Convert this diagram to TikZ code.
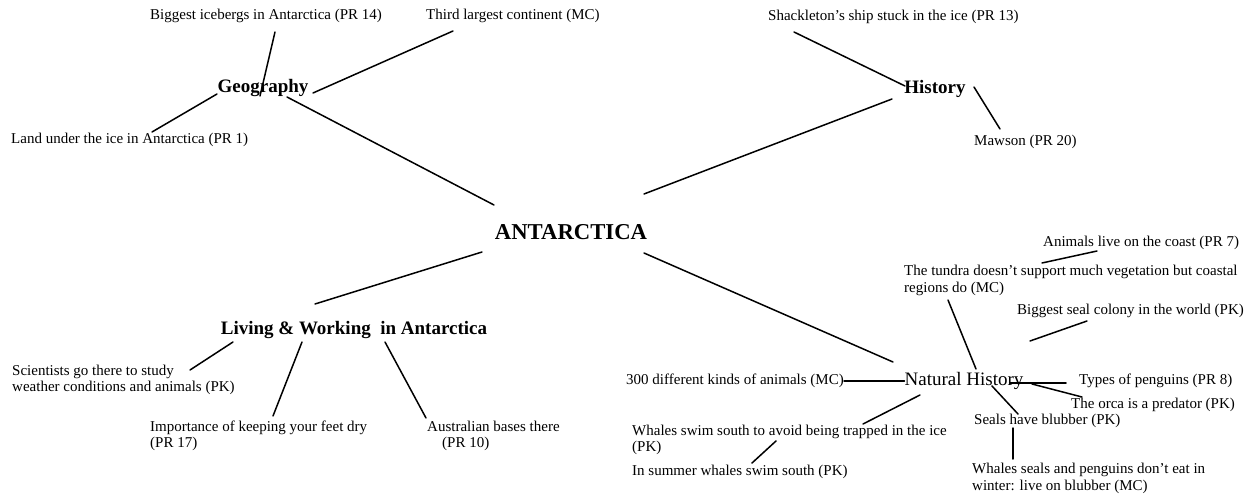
\documentclass[tikz,border=0pt]{standalone}
\usepackage{fontspec}
\setmainfont{Liberation Serif}
\begin{document}
\begin{tikzpicture}[x=1pt,y=-1pt,
  leaf/.style={inner sep=0pt, anchor=west, align=left, font=\fontsize{15}{16.5}\selectfont},
  hub/.style={inner sep=0pt, font=\fontsize{19}{22}\selectfont\bfseries},
  link/.style={line width=1.5pt, line cap=round}]
\useasboundingbox (0,0) rectangle (1248,497);

% central topic and the four themes
\node[hub, font=\fontsize{22.7}{26}\selectfont\bfseries] (ant) at (571,232) {ANTARCTICA};
\node[hub] (geo) at (263,88) {Geography};
\node[hub] (hist) at (935,89) {History};
\node[hub] (liv) at (354,330) {Living \& Working~ in Antarctica};
\node[hub, font=\fontsize{19}{22}\selectfont] (nat) at (964,381) {Natural History};

% Geography
\node[leaf] (ice) at (150,16) {Biggest icebergs in Antarctica (PR 14)};
\node[leaf] (third) at (426,16) {Third largest continent (MC)};
\node[leaf] (land) at (11,140) {Land under the ice in Antarctica (PR 1)};

% History
\node[leaf] (shack) at (768,17) {Shackleton’s ship stuck in the ice (PR 13)};
\node[leaf] (maw) at (974,142) {Mawson (PR 20)};

% Living & Working
\node[leaf] (sci) at (12,380) {Scientists go there to study\\weather conditions and animals (PK)};
\node[leaf] (imp) at (150,436) {Importance of keeping your feet dry\\(PR 17)};
\node[leaf] (aus) at (427,436) {Australian bases there\\\hspace*{15pt}(PR 10)};

% Natural History
\node[leaf] (coast) at (1043,243) {Animals live on the coast (PR 7)};
\node[leaf] (tundra) at (904,280.5) {The tundra doesn’t support much vegetation but coastal\\regions do (MC)};
\node[leaf] (seal) at (1017,311) {Biggest seal colony in the world (PK)};
\node[leaf] (d300) at (626,381) {300 different kinds of animals (MC)};
\node[leaf] (types) at (1079,381) {Types of penguins (PR 8)};
\node[leaf] (orca) at (1071,405) {The orca is a predator (PK)};
\node[leaf] (seals) at (974,421) {Seals have blubber (PK)};
\node[leaf] (avoid) at (632,440) {Whales swim south to avoid being trapped in the ice\\(PK)};
\node[leaf] (summer) at (632,472) {In summer whales swim south (PK)};
\node[leaf] (nocat) at (972,478.5) {Whales seals and penguins don’t eat in\\winter: live on blubber (MC)};

% connectors
\draw[link] ([shift={(125,16)}]ice.west) -- ([shift={(-3,8)}]geo.center);
\draw[link] ([shift={(27,15)}]third.west) -- ([shift={(50,5)}]geo.center);
\draw[link] ([shift={(141,-8)}]land.west) -- ([shift={(-46,6)}]geo.center);
\draw[link] ([shift={(24,9)}]geo.center) -- ([shift={(-77,-27)}]ant.center);

\draw[link] ([shift={(26,15)}]shack.west) -- ([shift={(-30,-3)}]hist.center);
\draw[link] ([shift={(39,-2)}]hist.center) -- ([shift={(26,-13)}]maw.west);
\draw[link] ([shift={(73,-38)}]ant.center) -- ([shift={(-43,10)}]hist.center);

\draw[link] ([shift={(-89,20)}]ant.center) -- ([shift={(-39,-26)}]liv.center);
\draw[link] ([shift={(-121,12)}]liv.center) -- ([shift={(178,-10)}]sci.west);
\draw[link] ([shift={(-52,12)}]liv.center) -- ([shift={(123,-20)}]imp.west);
\draw[link] ([shift={(31,12)}]liv.center) -- ([shift={(-1,-18)}]aus.west);

\draw[link] ([shift={(73,21)}]ant.center) -- ([shift={(-71,-19)}]nat.center);
\draw[link] (d300.east) -- (nat.west);
\draw[link] ([shift={(-14,2)}]nat.east) -- ([shift={(-13,2)}]types.west);
\draw[link] ([shift={(44,19.5)}]tundra.west) -- ([shift={(12,-12)}]nat.center);
\draw[link] ([shift={(70,10)}]seal.west) -- ([shift={(66,-40)}]nat.center);
\draw[link] ([shift={(68,3)}]nat.center) -- ([shift={(11,-8)}]orca.west);
\draw[link] ([shift={(28,5)}]nat.center) -- ([shift={(44,-7)}]seals.west);
\draw[link] ([shift={(39,7)}]seals.west) -- ([shift={(41,-19.5)}]nocat.west);
\draw[link] ([shift={(-44,14)}]nat.center) -- ([shift={(231,-16)}]avoid.west);
\draw[link] ([shift={(144,1)}]avoid.west) -- ([shift={(120,-9)}]summer.west);
\draw[link] ([shift={(54,8)}]coast.west) -- ([shift={(138,-17.5)}]tundra.west);
\end{tikzpicture}
\end{document}
